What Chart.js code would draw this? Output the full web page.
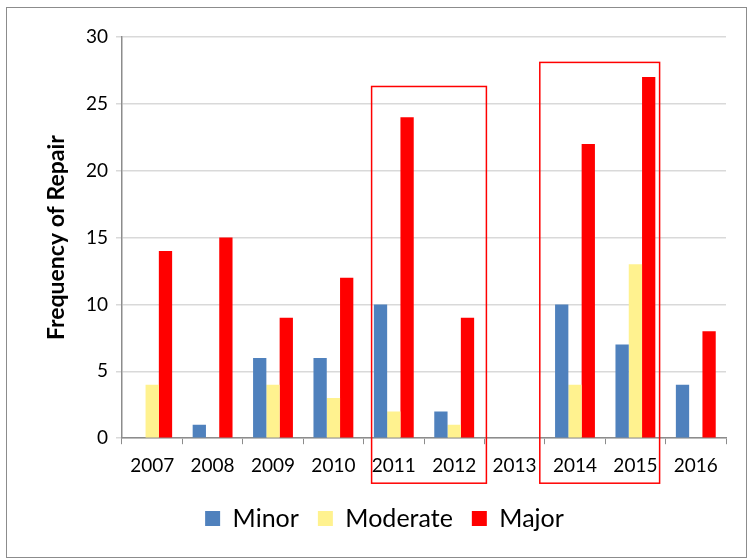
<!DOCTYPE html>
<html>
<head>
<meta charset="utf-8">
<script src="https://cdn.jsdelivr.net/npm/chart.js@4.4.1/dist/chart.umd.min.js"></script>
<style>
  html, body { margin: 0; padding: 0; background: #fff; }
  #wrap { position: relative; width: 747px; height: 559px; }
</style>
</head>
<body>
<div id="wrap"><canvas id="repairChart" width="747" height="559"></canvas></div>
<script>
// chart data
const years = ['2007', '2008', '2009', '2010', '2011', '2012', '2013', '2014', '2015', '2016'];
const minor = [0, 1, 6, 6, 10, 2, 0, 10, 7, 4];
const moderate = [4, 0, 4, 3, 2, 1, 0, 4, 13, 0];
const major = [14, 15, 9, 12, 24, 9, 0, 22, 27, 8];
const yTicks = [0, 5, 10, 15, 20, 25, 30];

// highlighted year groups (first/last category index, top value)
const highlights = [
  { from: 4, to: 5, top: 26.3, padL: 8, padR: 2 },
  { from: 7, to: 8, top: 28.1, padL: -5, padR: -6 },
];

const frame = {
  id: 'frame',
  beforeDraw(chart) {
    const ctx = chart.ctx;
    ctx.save();
    ctx.fillStyle = '#fff';
    ctx.fillRect(0, 0, chart.width, chart.height);
    ctx.strokeStyle = '#8c8c8c';
    ctx.lineWidth = 1;
    ctx.strokeRect(6.5, 7.5, 740, 550);
    ctx.restore();
  },
};

const boxes = {
  id: 'boxes',
  afterDraw(chart) {
    const ctx = chart.ctx;
    const x = chart.scales.x;
    const y = chart.scales.y;
    const half = (x.getPixelForValue(1) - x.getPixelForValue(0)) / 2;
    ctx.save();
    ctx.strokeStyle = '#ff0000';
    ctx.lineWidth = 1.5;
    highlights.forEach(h => {
      const left = x.getPixelForValue(h.from) - half + h.padL;
      const right = x.getPixelForValue(h.to) + half + h.padR;
      const top = y.getPixelForValue(h.top);
      const bottom = chart.chartArea.bottom + 45;
      ctx.strokeRect(left, top, right - left, bottom - top);
    });
    ctx.restore();
  },
};

const ctx = document.getElementById('repairChart').getContext('2d');
const repairChart = new Chart(ctx, {
  type: 'bar',
  data: {
    labels: years,
    datasets: [
      { label: 'Minor', data: minor, backgroundColor: '#4f81bd' },
      { label: 'Moderate', data: moderate, backgroundColor: '#fff28f' },
      { label: 'Major', data: major, backgroundColor: '#ff0000' },
    ],
  },
  options: {
    responsive: false,
    animation: false,
    layout: { padding: { left: 43, right: 21, top: 37, bottom: 18 } },
    datasets: { bar: { categoryPercentage: 0.66, barPercentage: 1 } },
    plugins: {
      tooltip: { enabled: false },
      legend: {
        position: 'bottom',
        labels: {
          font: { family: 'Lato', size: 25 },
          color: '#000',
          boxWidth: 15,
          boxHeight: 15,
          padding: 19,
        },
      },
    },
    scales: {
      x: {
        grid: { drawOnChartArea: false, tickLength: 6, color: '#8c8c8c' },
        border: { color: '#8c8c8c', width: 1.5 },
        ticks: { font: { family: 'Lato', size: 19 }, color: '#000', padding: 10, maxRotation: 0 },
      },
      y: {
        min: 0,
        max: 30,
        afterBuildTicks(axis) { axis.ticks = yTicks.map(v => ({ value: v })); },
        afterFit(axis) { axis.width = 79; },
        grid: { color: '#d9d9d9', lineWidth: 1.5, tickLength: 6 },
        border: { color: '#8c8c8c', width: 1.5 },
        ticks: { font: { family: 'Lato', size: 19 }, color: '#000', padding: 8 },
        title: {
          display: true,
          text: 'Frequency of Repair',
          font: { family: 'Lato', size: 23, weight: 'bold' },
          color: '#000',
          padding: 0,
        },
      },
    },
  },
  plugins: [frame, boxes],
});
</script>
</body>
</html>
